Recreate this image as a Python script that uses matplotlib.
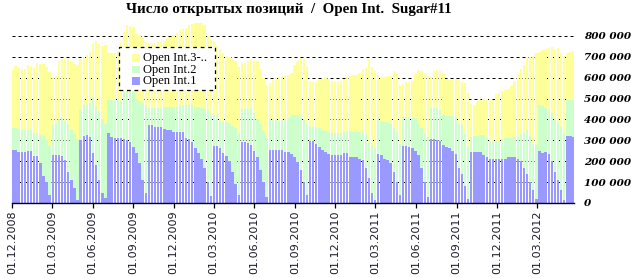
import numpy as np
import pandas as pd
import matplotlib
matplotlib.use('Agg')
import matplotlib.pyplot as plt
import matplotlib.dates as mdates
from matplotlib.patches import Rectangle
from matplotlib.ticker import FixedLocator, FuncFormatter

W, H = 631, 278

# weekly observations
weeks = pd.date_range('2008-12-02', periods=182, freq='7D')

# Open Int.1 (front contract), thousands
oi1_k = [255, 255, 245, 245, 245, 250, 250, 225, 225, 190, 130, 100, 40,
         230, 230, 230, 225, 205, 150, 110, 70, 15,
         300, 320, 325, 318, 240, 180, 110, 50, 25,
         333, 315, 310, 310, 310, 308,
         300, 293, 270, 238, 190, 110, 46,
         375, 372, 365, 365, 362, 355, 352, 350, 342, 340, 340, 338,
         310, 305, 290, 265, 240, 210, 170, 100, 35,
         273, 273, 265, 240, 225, 200, 150, 90,
         40, 290, 290, 288, 280, 250, 220, 160, 100, 30,
         255, 255, 252, 255, 252, 245, 245, 235, 220, 195, 160, 100, 40,
         295, 295, 285, 270, 255, 245, 235, 230, 230, 230, 232, 240, 240,
         222, 220, 218, 212, 205, 170, 120, 50, 15,
         235, 232, 212, 208, 190, 150, 100, 40,
         273, 273, 270, 262, 250, 230, 170, 100, 30,
         305, 305, 300, 295, 280, 270, 262, 250, 235, 170, 140, 80, 20,
         243, 243, 245, 242, 232, 222, 212, 210, 210, 210, 210, 212, 218, 222, 220, 210, 200, 170, 140, 100, 60, 20,
         250, 240, 245, 235, 200, 150, 110, 60, 15, 320, 320, 318]

# stacked level Open Int.1 + Open Int.2, thousands
level_12_k = [358, 358, 355, 352, 352, 350, 350, 335, 333, 328, 320, 300, 275,
              375, 380, 400, 405, 395, 375, 350, 330, 305,
              445, 470, 470, 480, 505, 460, 440, 400, 380,
              495, 495, 495, 492, 490, 530,
              535, 535, 530, 500, 490, 480, 470,
              455, 455, 455, 455, 455, 458, 458, 460, 460, 462, 465, 468,
              470, 470, 470, 462, 458, 455, 450, 445, 425,
              420, 415, 395, 390, 388, 385, 368, 360,
              335, 450, 450, 452, 455, 430, 400, 380, 345, 310,
              400, 400, 398, 395, 398, 400, 405, 418, 420, 420, 415, 400, 380,
              370, 365, 362, 360, 350, 345, 340, 335, 335, 335, 335, 345, 345,
              345, 340, 340, 338, 340, 330, 290, 280, 265,
              410, 395, 390, 390, 380, 360, 340, 285,
              410, 410, 410, 405, 405, 380, 360, 335, 318,
              455, 455, 455, 445, 420, 415, 415, 415, 410, 380, 375, 330, 270,
              318, 320, 322, 325, 325, 310, 300, 295, 295, 298, 308, 310, 310, 310, 315, 322, 330, 335, 350, 320, 285, 280,
              470, 465, 455, 450, 430, 400, 390, 365, 330, 495, 495, 492]

# total open interest (all contracts), thousands
total_k = [637, 655, 648, 640, 640, 660, 655, 648, 670, 668, 668, 650, 628,
           605, 608, 680, 690, 695, 690, 680, 665, 660,
           690, 700, 710, 722, 765, 775, 760, 750, 755,
           718, 718, 720, 730, 770, 820,
           855, 850, 845, 810, 800, 790, 770,
           765, 765, 768, 770, 772, 775, 790, 795, 805, 815, 830, 835,
           840, 855, 858, 860, 860, 862, 855, 800, 780,
           770, 750, 740, 720, 705, 700, 690, 680,
           650, 670, 672, 680, 685, 685, 680, 640, 600, 565,
           575, 590, 600, 605, 610, 612, 615, 625, 660, 680, 695, 690, 650,
           585, 580, 582, 590, 595, 598, 592, 585, 582, 580, 585, 595, 610,
           610, 612, 615, 625, 640, 648, 685, 650, 630,
           612, 605, 605, 608, 610, 630, 625, 565,
           568, 580, 582, 585, 620, 635, 630, 625, 610,
           605, 630, 635, 630, 620, 595, 590, 590, 595, 590, 580, 575, 525,
           475, 470, 490, 495, 500, 500, 498, 495, 520, 525, 535, 540, 545, 560, 585, 620, 640, 660, 695, 700, 705, 720,
           725, 735, 740, 742, 745, 740, 742, 720, 705, 720, 725, 728]

series_names = ['Open Int.1', 'Open Int.2', 'Open Int.3-..']
colors = ['#9999FF', '#CCFFCC', '#FFFF99']
title = 'Число открытых позиций  /  Open Int.  Sugar#11'
tick_dates = pd.date_range('2008-12-01', '2012-03-01', freq='3MS')
yticks = np.arange(0, 800001, 100000)

oi1 = np.array(oi1_k, dtype=float) * 1000
lvl12 = np.array(level_12_k, dtype=float) * 1000
tot = np.array(total_k, dtype=float) * 1000
oi2 = lvl12 - oi1
oi3 = tot - lvl12

fig = plt.figure(figsize=(W / 100, H / 100), dpi=100)
ax = fig.add_axes([12 / W, 1 - 203 / H, 562 / W, 183 / H])

x = mdates.date2num(weeks)
bw = 5.3
ax.bar(x, oi1, width=bw, color=colors[0], linewidth=0, antialiased=False, zorder=2)
ax.bar(x, oi2, width=bw, bottom=oi1, color=colors[1], linewidth=0, antialiased=False, zorder=2)
ax.bar(x, oi3, width=bw, bottom=oi1 + oi2, color=colors[2], linewidth=0, antialiased=False, zorder=2)

for yv in yticks[1:]:
    ax.axhline(yv, color='black', lw=0.72, ls=(0, (3, 3)), zorder=1)

ax.set_xlim(mdates.date2num(pd.Timestamp('2008-12-01')), mdates.date2num(pd.Timestamp('2012-05-23')))
ax.set_ylim(0, 876600)

for s in ['top', 'left', 'right']:
    ax.spines[s].set_visible(False)
ax.spines['bottom'].set_color('black')
ax.spines['bottom'].set_linewidth(1.0)
ax.spines['bottom'].set_zorder(3)

ax.xaxis.set_major_locator(FixedLocator(mdates.date2num(tick_dates)))
ax.xaxis.set_major_formatter(FuncFormatter(lambda v, p: mdates.num2date(v).strftime('%d.%m.%Y')))
ax.tick_params(axis='x', direction='out', length=3.6, width=0.9, color='black', pad=2,
               labelsize=8, labelrotation=90, labelcolor='#1a1a2a')
for lab in ax.get_xticklabels():
    lab.set_family('DejaVu Sans')

ax.yaxis.tick_right()
ax.yaxis.set_major_locator(FixedLocator(yticks))
ax.yaxis.set_major_formatter(FuncFormatter(lambda v, p: f'{int(v):,}'.replace(',', ' ')))
ax.tick_params(axis='y', length=0, pad=7, labelsize=7.5)
for lab in ax.get_yticklabels():
    lab.set_family('DejaVu Serif')
    lab.set_fontweight('bold')
    lab.set_fontstyle('italic')

fig.text(289 / W, 1 - 10 / H, title, ha='center', va='center', fontsize=10.8,
         fontweight='bold', family=['Liberation Serif', 'DejaVu Serif'])

# legend (drawn in figure pixel positions)
def fx(px):
    return px / W

def fy(py):
    return 1 - py / H

fig.add_artist(Rectangle((fx(119), fy(90)), 96 / W, 43 / H, transform=fig.transFigure,
                         facecolor='white', edgecolor='black', lw=0.9, ls=(0, (3, 3)), zorder=5))
rows = [(58.3, 2), (69.5, 1), (80.7, 0)]
for yc, i in rows:
    fig.add_artist(Rectangle((fx(132), fy(yc + 3.9)), 7.7 / W, 7.7 / H, transform=fig.transFigure,
                             facecolor=colors[i], edgecolor='none', zorder=6))
    fig.text(fx(143), fy(yc), series_names[i], ha='left', va='center', fontsize=9,
             family='Liberation Serif', zorder=7)

fig.savefig('out.png', dpi=100)
